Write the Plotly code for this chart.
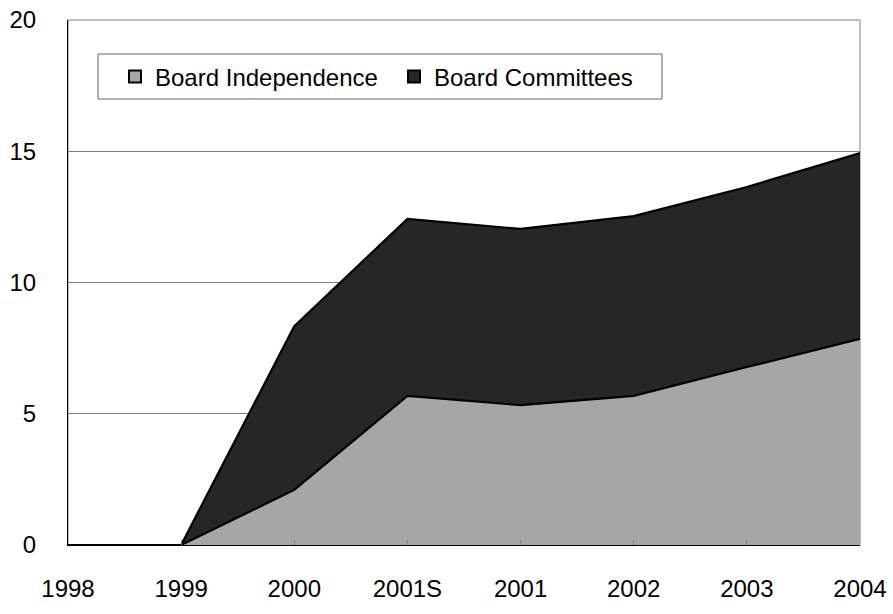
import plotly.graph_objects as go

years = ["1998", "1999", "2000", "2001S", "2001", "2002", "2003", "2004"]
board_independence = [0, 0, 2.1, 5.68, 5.33, 5.68, 6.78, 7.85]
board_committees = [0, 0, 6.24, 6.74, 6.71, 6.85, 6.86, 7.08]
y_ticks = [0, 5, 10, 15, 20]

FONT = "Liberation Sans, Arial, sans-serif"
GRAY_FILL = "#A6A6A6"
DARK_FILL = "#262626"

L, R, T, B = 68, 33, 20, 69
W, H = 893, 614
PW, PH = W - L - R, H - T - B


def px_x(x):
    return (x - L) / PW


def px_y(y):
    return (H - B - y) / PH


fig = go.Figure()
fig.add_trace(go.Scatter(
    x=years, y=board_independence, stackgroup="one", mode="lines",
    line=dict(color="black", width=2.2), fillcolor=GRAY_FILL,
    name="Board Independence", showlegend=False))
fig.add_trace(go.Scatter(
    x=years, y=board_committees, stackgroup="one", mode="lines",
    line=dict(color="black", width=2.2), fillcolor=DARK_FILL,
    name="Board Committees", showlegend=False))

# legend entries with square swatches
for name, col in [("Board Independence", GRAY_FILL), ("Board Committees", DARK_FILL)]:
    fig.add_trace(go.Scatter(
        x=[None], y=[None], mode="markers", name=name,
        marker=dict(symbol="square", size=15, color=col,
                    line=dict(color="black", width=2))))

# plot frame
fig.add_shape(type="rect", xref="paper", yref="paper", x0=0, x1=1, y0=0, y1=1,
              line=dict(color="#808080", width=1), layer="below")
# legend box
fig.add_shape(type="rect", xref="paper", yref="paper",
              x0=px_x(98), x1=px_x(662), y0=px_y(99), y1=px_y(54),
              line=dict(color="#666666", width=1), fillcolor="white", layer="above")

fig.update_layout(
    width=W, height=H,
    margin=dict(l=L, r=R, t=T, b=B),
    paper_bgcolor="white", plot_bgcolor="white",
    font=dict(family=FONT, size=24, color="black"),
    showlegend=True,
    legend=dict(
        orientation="h", x=px_x(115), y=px_y(77), xanchor="left", yanchor="middle",
        bgcolor="rgba(0,0,0,0)", borderwidth=0, traceorder="normal",
        font=dict(family=FONT, size=24, color="black"),
        itemsizing="constant", entrywidth=234, entrywidthmode="pixels",
        tracegroupgap=0),
    xaxis=dict(
        type="category", categoryorder="array", categoryarray=years,
        range=[0, 7], showgrid=False, zeroline=False, automargin=False,
        showline=True, linecolor="black", linewidth=1,
        ticks="inside", ticklen=5, tickcolor="#808080", tickwidth=1,
        ticklabelstandoff=22, tickfont=dict(size=24)),
    yaxis=dict(
        range=[0, 20], tickvals=y_ticks, showgrid=True, gridcolor="#808080",
        gridwidth=1, zeroline=False, showline=True, linecolor="black",
        automargin=False,
        linewidth=1, ticks="", ticklabelstandoff=26, tickfont=dict(size=24)),
)

fig.write_html("out.html")
